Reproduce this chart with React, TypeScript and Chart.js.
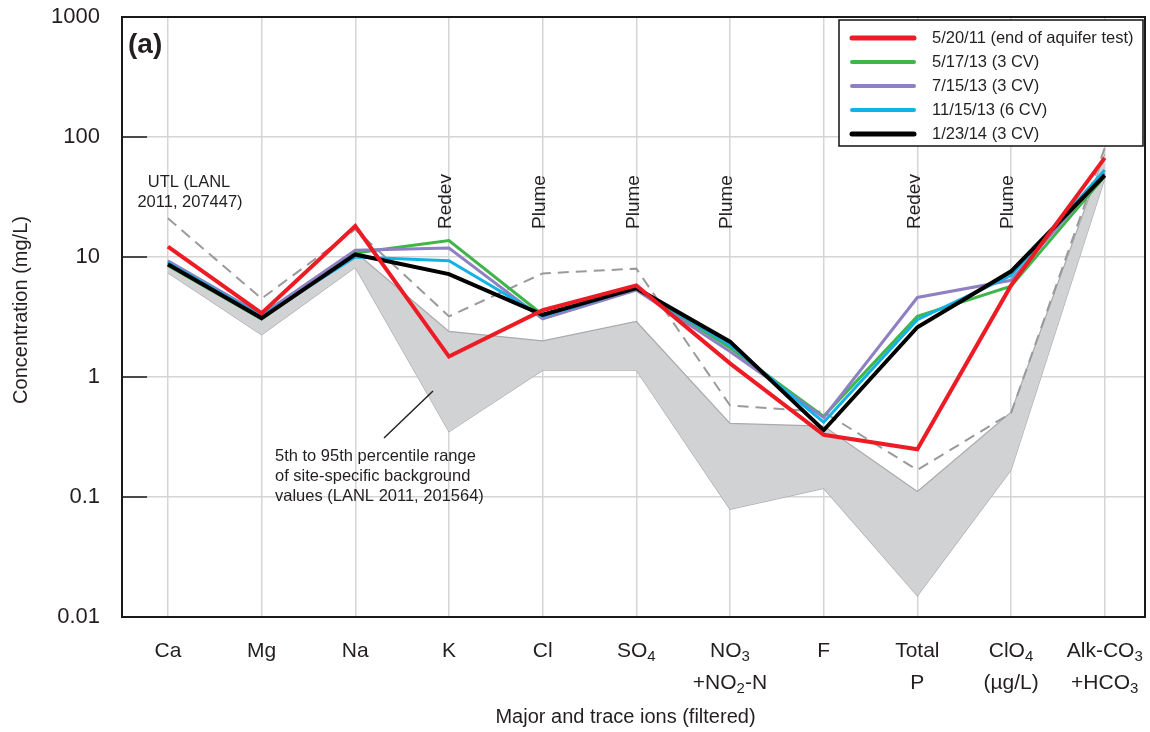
import React, { useEffect, useRef } from "react";
import { Chart, registerables } from "chart.js";

Chart.register(...registerables);

// Analytes along the x axis; "_x" marks a one-character subscript.
const categoryLines: string[][] = [
  ["Ca"],
  ["Mg"],
  ["Na"],
  ["K"],
  ["Cl"],
  ["SO_4"],
  ["NO_3", "+NO_2-N"],
  ["F"],
  ["Total", "P"],
  ["ClO_4", "(µg/L)"],
  ["Alk-CO_3", "+HCO_3"],
];

const yTicks = [0.01, 0.1, 1, 10, 100, 1000];

// Sampling events (mg/L; ClO4 in µg/L)
const s052011 = [12.2, 3.4, 18.1, 1.48, 3.6, 5.8, 1.3, 0.33, 0.25, 5.8, 67];
const s051713 = [8.5, 3.05, 10.8, 13.7, 3.3, 5.5, 1.75, 0.47, 3.2, 5.7, 47];
const s071513 = [9.3, 3.3, 11.4, 11.9, 3.05, 5.3, 1.63, 0.46, 4.6, 6.4, 50];
const s111513 = [9.0, 3.2, 10.0, 9.3, 3.2, 5.5, 1.85, 0.42, 3.0, 7.0, 53];
const s012314 = [8.7, 3.1, 10.5, 7.2, 3.3, 5.5, 1.97, 0.36, 2.6, 7.6, 48];

// Upper tolerance limit
const utl = [21, 4.5, 17, 3.2, 7.3, 8.0, 0.58, 0.51, 0.168, 0.5, 81];

// 5th–95th percentile background range
const bgUpper = [9.0, 3.0, 11.0, 2.4, 2.0, 2.9, 0.41, 0.39, 0.111, 0.51, 72];
const bgLower = [7.4, 2.25, 8.2, 0.35, 1.14, 1.14, 0.079, 0.118, 0.015, 0.168, 45];

const seriesNames = [
  "5/20/11 (end of aquifer test)",
  "5/17/13 (3 CV)",
  "7/15/13 (3 CV)",
  "11/15/13 (6 CV)",
  "1/23/14 (3 CV)",
];
const seriesColors = ["#ed1c24", "#3fb54a", "#8e80c2", "#13b2e6", "#000000"];
const seriesWidths = [4, 3, 3, 3, 4];
const seriesOrder = [0, 4, 3, 2, 1];
const seriesValues = [s052011, s051713, s071513, s111513, s012314];

// Source labels above selected analytes
const sourceTags: [number, string][] = [
  [3, "Redev"],
  [4, "Plume"],
  [5, "Plume"],
  [6, "Plume"],
  [8, "Redev"],
  [9, "Plume"],
];

const FONT = "'Liberation Sans', Arial, Helvetica, sans-serif";
const INK = "#231f20";

const toXY = (arr: number[]) => arr.map((v, i) => ({ x: i, y: v }));

function drawRich(ctx: CanvasRenderingContext2D, text: string, cx: number, y: number, size: number) {
  const segs: { t: string; sub: boolean }[] = [];
  let buf = "";
  for (let i = 0; i < text.length; i++) {
    if (text[i] === "_" && i + 1 < text.length) {
      if (buf) segs.push({ t: buf, sub: false });
      buf = "";
      segs.push({ t: text[i + 1], sub: true });
      i++;
    } else buf += text[i];
  }
  if (buf) segs.push({ t: buf, sub: false });
  const fontFor = (sub: boolean) => `${sub ? Math.round(size * 0.72) : size}px ${FONT}`;
  let total = 0;
  const widths = segs.map((s) => {
    ctx.font = fontFor(s.sub);
    const w = ctx.measureText(s.t).width;
    total += w;
    return w;
  });
  let x = cx - total / 2;
  ctx.textAlign = "left";
  ctx.textBaseline = "middle";
  segs.forEach((s, i) => {
    ctx.font = fontFor(s.sub);
    ctx.fillText(s.t, x, s.sub ? y + size * 0.3 : y);
    x += widths[i];
  });
}

const decorPlugin = {
  id: "decor",
  afterDraw(chart: any) {
    const { ctx, chartArea: a, scales } = chart;
    const xs = scales.x;
    const ys = scales.y;
    ctx.save();

    // inward decade ticks
    ctx.strokeStyle = "#4a4a4a";
    ctx.lineWidth = 2;
    yTicks.forEach((v) => {
      const py = Math.round(ys.getPixelForValue(v));
      ctx.beginPath();
      ctx.moveTo(a.left, py);
      ctx.lineTo(a.left + 25, py);
      ctx.stroke();
    });

    // plot frame
    ctx.strokeStyle = "#1a1a1a";
    ctx.lineWidth = 2;
    ctx.strokeRect(a.left, a.top, a.right - a.left, a.bottom - a.top);

    ctx.fillStyle = INK;

    // category labels
    categoryLines.forEach((lines, i) => {
      const px = xs.getPixelForValue(i);
      lines.forEach((ln, j) => drawRich(ctx, ln, px, a.bottom + 34 + j * 32, 21));
    });

    // axis titles
    ctx.font = `20px ${FONT}`;
    ctx.textAlign = "center";
    ctx.textBaseline = "middle";
    ctx.fillText("Major and trace ions (filtered)", (a.left + a.right) / 2 - 8, a.bottom + 100);
    ctx.save();
    ctx.translate(21, 310);
    ctx.rotate(-Math.PI / 2);
    ctx.fillText("Concentration (mg/L)", 0, 0);
    ctx.restore();

    // panel letter
    ctx.font = `bold 28px ${FONT}`;
    ctx.textAlign = "left";
    ctx.fillText("(a)", a.left + 6, a.top + 28);

    // UTL note
    ctx.font = `16.5px ${FONT}`;
    ctx.textAlign = "center";
    ctx.fillText("UTL (LANL", 189, 182);
    ctx.fillText("2011, 207447)", 190, 202);

    // source tags
    ctx.font = `19px ${FONT}`;
    sourceTags.forEach(([i, t]) => {
      const px = xs.getPixelForValue(i) - 3;
      ctx.save();
      ctx.translate(px, 229);
      ctx.rotate(-Math.PI / 2);
      ctx.textAlign = "left";
      ctx.textBaseline = "middle";
      ctx.fillText(t, 0, 0);
      ctx.restore();
    });

    // background band note with leader
    ctx.strokeStyle = "#222";
    ctx.lineWidth = 1.5;
    ctx.beginPath();
    ctx.moveTo(433, 391);
    ctx.lineTo(384, 438);
    ctx.stroke();
    ctx.font = `16.5px ${FONT}`;
    ctx.textAlign = "left";
    ctx.fillText("5th to 95th percentile range", 275, 456);
    ctx.fillText("of site-specific background", 275, 476);
    ctx.fillText("values (LANL 2011, 201564)", 275, 496);

    // legend
    const lx = 839, ly = 20, lw = 304, lh = 126;
    ctx.fillStyle = "#ffffff";
    ctx.fillRect(lx, ly, lw, lh);
    ctx.strokeStyle = "#111";
    ctx.lineWidth = 1.5;
    ctx.strokeRect(lx, ly, lw, lh);
    ctx.lineCap = "round";
    seriesNames.forEach((name, i) => {
      const ry = 38 + i * 24;
      ctx.strokeStyle = seriesColors[i];
      ctx.lineWidth = seriesWidths[i] + 1;
      ctx.beginPath();
      ctx.moveTo(852, ry);
      ctx.lineTo(914, ry);
      ctx.stroke();
      ctx.fillStyle = INK;
      ctx.font = `16.5px ${FONT}`;
      ctx.textBaseline = "middle";
      ctx.fillText(name, 932, ry);
    });
    ctx.restore();
  },
};

export default function App() {
  const canvasRef = useRef<HTMLCanvasElement | null>(null);

  useEffect(() => {
    const canvas = canvasRef.current;
    if (!canvas) return;

    const datasets: any[] = [];
    seriesValues.forEach((vals, i) => {
      datasets.push({
        label: seriesNames[i],
        data: toXY(vals),
        borderColor: seriesColors[i],
        borderWidth: seriesWidths[i],
        pointRadius: 0,
        fill: false,
        tension: 0,
        order: seriesOrder[i],
      });
    });
    datasets.push({
      label: "UTL",
      data: toXY(utl),
      borderColor: "#9a9a9a",
      borderWidth: 2,
      borderDash: [11, 7],
      pointRadius: 0,
      fill: false,
      order: 5,
    });
    const lowerIndex = datasets.length + 1;
    datasets.push({
      label: "Background 95th",
      data: toXY(bgUpper),
      borderColor: "#a9aaac",
      borderWidth: 1.2,
      backgroundColor: "#d1d2d4",
      pointRadius: 0,
      fill: lowerIndex,
      order: 6,
    });
    datasets.push({
      label: "Background 5th",
      data: toXY(bgLower),
      borderColor: "#a9aaac",
      borderWidth: 1.2,
      pointRadius: 0,
      fill: false,
      order: 7,
    });

    const chart = new Chart(canvas, {
      type: "line",
      data: { datasets },
      options: {
        animation: false,
        responsive: false,
        maintainAspectRatio: false,
        layout: { padding: { top: 17, right: 5, left: 0, bottom: 0 } },
        plugins: { legend: { display: false }, tooltip: { enabled: false } },
        scales: {
          x: {
            type: "linear",
            min: -0.49,
            max: 10.43,
            border: { display: false },
            grid: { color: "#d5d5d5", lineWidth: 1.5, drawTicks: false },
            ticks: { display: false },
            afterBuildTicks: (s: any) => {
              s.ticks = categoryLines.map((_, i) => ({ value: i }));
            },
            afterFit: (s: any) => {
              s.height = 115;
              s.paddingLeft = 0;
              s.paddingRight = 0;
            },
          },
          y: {
            type: "logarithmic",
            min: 0.01,
            max: 1000,
            border: { display: false },
            grid: { color: "#d5d5d5", lineWidth: 1.5, drawTicks: false },
            afterBuildTicks: (s: any) => {
              s.ticks = yTicks.map((v) => ({ value: v }));
            },
            ticks: {
              padding: 22,
              color: INK,
              font: { size: 22, family: FONT },
              callback: (v: any) => String(Number(v)),
            },
            afterFit: (s: any) => {
              s.width = 122;
              s.paddingTop = 0;
              s.paddingBottom = 0;
            },
          },
        },
      },
      plugins: [decorPlugin],
    });
    return () => chart.destroy();
  }, []);

  return (
    <div style={{ position: "fixed", left: 0, top: 0, width: 1150, height: 732, background: "#fff" }}>
      <canvas ref={canvasRef} width={1150} height={732} style={{ display: "block" }} />
    </div>
  );
}
